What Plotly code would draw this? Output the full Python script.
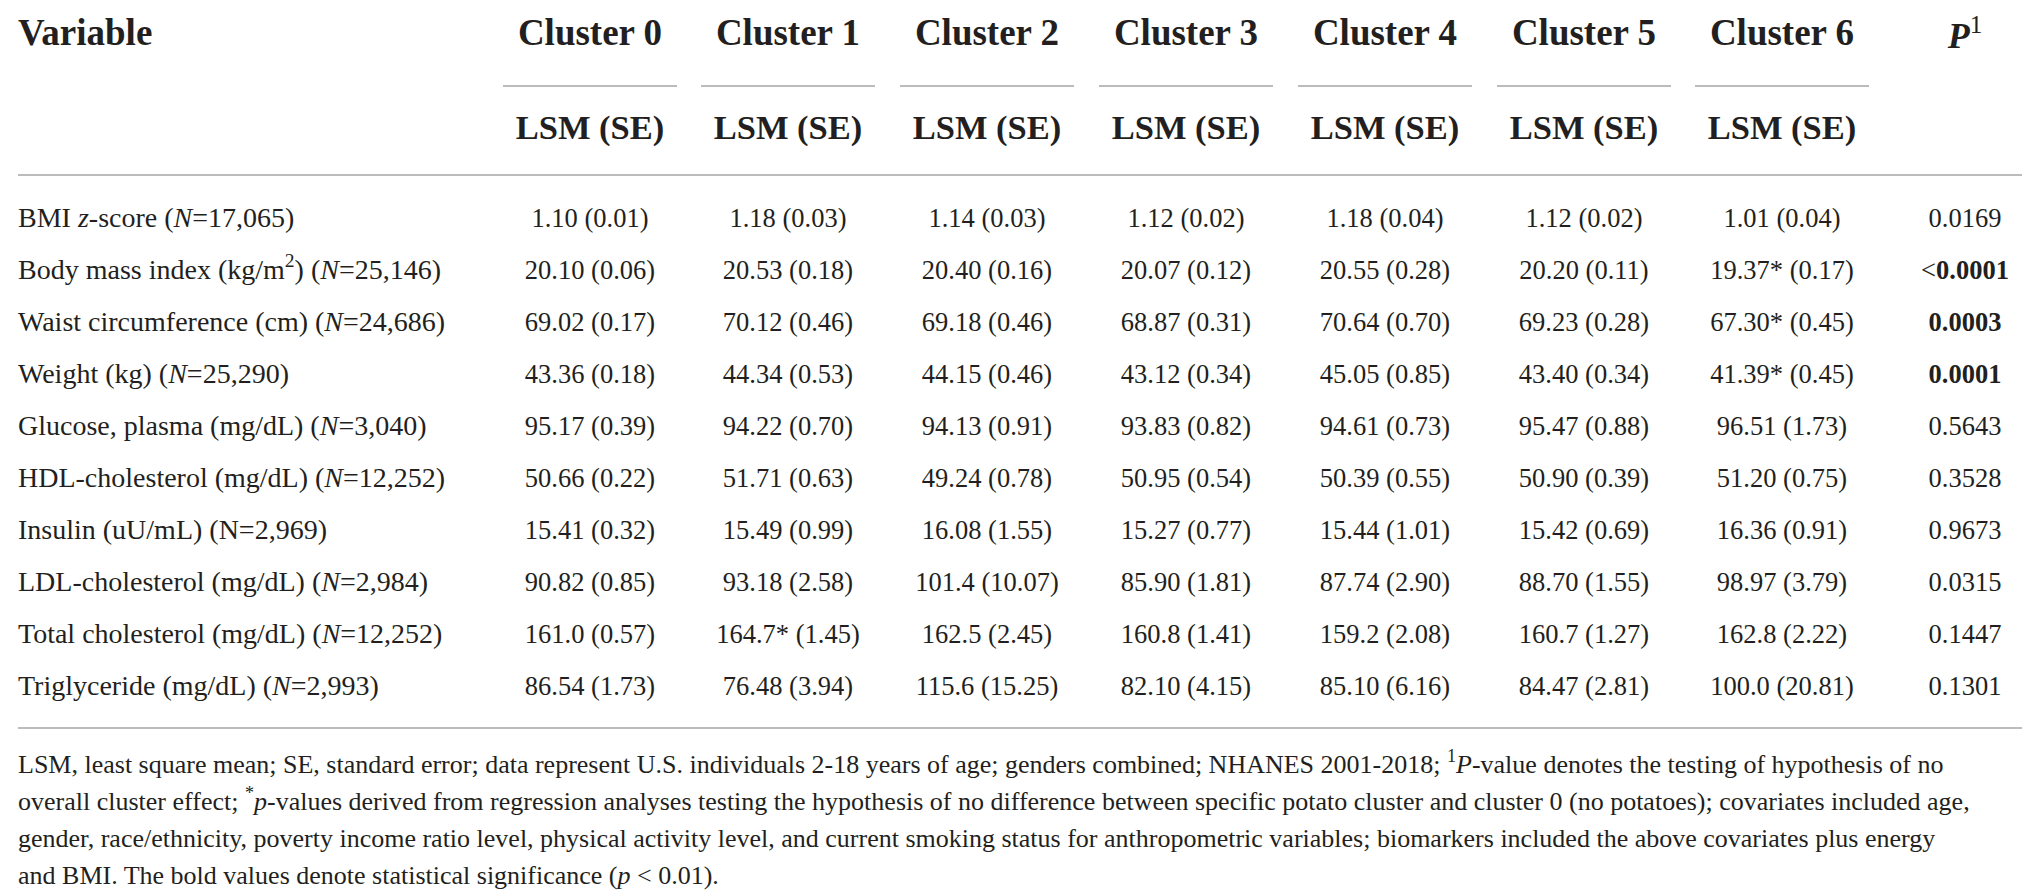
import plotly.graph_objects as go

# table content
clusters = ["Cluster 0", "Cluster 1", "Cluster 2", "Cluster 3", "Cluster 4", "Cluster 5", "Cluster 6"]
variables = ["BMI <i>z</i>-score (<i>N</i>=17,065)",
             "Body mass index (kg/m<sup>2</sup>) (<i>N</i>=25,146)",
             "Waist circumference (cm) (<i>N</i>=24,686)",
             "Weight (kg) (<i>N</i>=25,290)",
             "Glucose, plasma (mg/dL) (<i>N</i>=3,040)",
             "HDL-cholesterol (mg/dL) (<i>N</i>=12,252)",
             "Insulin (uU/mL) (N=2,969)",
             "LDL-cholesterol (mg/dL) (<i>N</i>=2,984)",
             "Total cholesterol (mg/dL) (<i>N</i>=12,252)",
             "Triglyceride (mg/dL) (<i>N</i>=2,993)"]

lsm_c0 = ["1.10", "20.10", "69.02", "43.36", "95.17", "50.66", "15.41", "90.82", "161.0", "86.54"]
se_c0 = ["0.01", "0.06", "0.17", "0.18", "0.39", "0.22", "0.32", "0.85", "0.57", "1.73"]
lsm_c1 = ["1.18", "20.53", "70.12", "44.34", "94.22", "51.71", "15.49", "93.18", "164.7*", "76.48"]
se_c1 = ["0.03", "0.18", "0.46", "0.53", "0.70", "0.63", "0.99", "2.58", "1.45", "3.94"]
lsm_c2 = ["1.14", "20.40", "69.18", "44.15", "94.13", "49.24", "16.08", "101.4", "162.5", "115.6"]
se_c2 = ["0.03", "0.16", "0.46", "0.46", "0.91", "0.78", "1.55", "10.07", "2.45", "15.25"]
lsm_c3 = ["1.12", "20.07", "68.87", "43.12", "93.83", "50.95", "15.27", "85.90", "160.8", "82.10"]
se_c3 = ["0.02", "0.12", "0.31", "0.34", "0.82", "0.54", "0.77", "1.81", "1.41", "4.15"]
lsm_c4 = ["1.18", "20.55", "70.64", "45.05", "94.61", "50.39", "15.44", "87.74", "159.2", "85.10"]
se_c4 = ["0.04", "0.28", "0.70", "0.85", "0.73", "0.55", "1.01", "2.90", "2.08", "6.16"]
lsm_c5 = ["1.12", "20.20", "69.23", "43.40", "95.47", "50.90", "15.42", "88.70", "160.7", "84.47"]
se_c5 = ["0.02", "0.11", "0.28", "0.34", "0.88", "0.39", "0.69", "1.55", "1.27", "2.81"]
lsm_c6 = ["1.01", "19.37*", "67.30*", "41.39*", "96.51", "51.20", "16.36", "98.97", "162.8", "100.0"]
se_c6 = ["0.04", "0.17", "0.45", "0.45", "1.73", "0.75", "0.91", "3.79", "2.22", "20.81"]

p_values = ["0.0169", "<0.0001", "0.0003", "0.0001", "0.5643", "0.3528", "0.9673", "0.0315", "0.1447", "0.1301"]
p_bold = [False, True, True, True, False, False, False, False, False, False]

footnote = [
    "LSM, least square mean; SE, standard error; data represent U.S. individuals 2-18 years of age; genders combined; NHANES 2001-2018; <sup>1</sup><i>P</i>-value denotes the testing of hypothesis of no",
    "overall cluster effect; <sup>*</sup><i>p</i>-values derived from regression analyses testing the hypothesis of no difference between specific potato cluster and cluster 0 (no potatoes); covariates included age,",
    "gender, race/ethnicity, poverty income ratio level, physical activity level, and current smoking status for anthropometric variables; biomarkers included the above covariates plus energy",
    "and BMI. The bold values denote statistical significance (<i>p</i> &lt; 0.01).",
]

lsm_cols = [lsm_c0, lsm_c1, lsm_c2, lsm_c3, lsm_c4, lsm_c5, lsm_c6]
se_cols = [se_c0, se_c1, se_c2, se_c3, se_c4, se_c5, se_c6]

FONT = "Liberation Serif"
INK = "#231f20"
RULE = "#a6a6a6"

col_x = [582, 780, 979, 1178, 1377, 1576, 1774]
p_x = 1957
label_x = 10
row_y0, row_step = 212, 52
row_y = [row_y0 + i * row_step for i in range(len(variables))]

fig = go.Figure()


def text_trace(xs, ys, texts, size, pos="middle center"):
    fig.add_trace(go.Scatter(x=xs, y=ys, text=texts, mode="text",
                             textposition=pos, hoverinfo="skip",
                             textfont=dict(family=FONT, size=size, color=INK)))


# body cells
text_trace([label_x] * len(row_y), row_y, variables, 28, "middle right")
for cx, lsm, se in zip(col_x, lsm_cols, se_cols):
    text_trace([cx] * len(row_y), row_y, [f"{a} ({b})" for a, b in zip(lsm, se)], 26.5)

p_text = []
for p, bold in zip(p_values, p_bold):
    lt = p.startswith("<")
    core = p[1:] if lt else p
    if bold:
        core = "<b>" + core + "</b>"
    p_text.append(("&lt;" if lt else "") + core)
text_trace([p_x] * len(row_y), row_y, p_text, 26.5)

# header
text_trace([label_x], [28], ["<b>Variable</b>"], 37, "middle right")
text_trace(col_x, [28] * len(col_x), ["<b>" + c + "</b>" for c in clusters], 37)
text_trace(col_x, [122] * len(col_x), ["<b>LSM (SE)</b>"] * len(col_x), 34.5)
text_trace([p_x], [31], ["<b><i>P</i></b><sup>1</sup>"], 36)

# footnote
text_trace([label_x] * len(footnote), [758 + j * 37 for j in range(len(footnote))],
           footnote, 26, "middle right")

# rules
shapes = []
for cx in col_x:
    shapes.append(dict(type="line", xref="x", yref="y", x0=cx - 87, x1=cx + 87, y0=78, y1=78,
                       line=dict(color=RULE, width=1.6)))
for yy in (167, 720):
    shapes.append(dict(type="line", xref="x", yref="y", x0=label_x, x1=2018, y0=yy, y1=yy,
                       line=dict(color=RULE, width=1.6)))

fig.update_layout(
    width=2030, height=892,
    margin=dict(l=0, r=0, t=0, b=0),
    paper_bgcolor="white", plot_bgcolor="white",
    xaxis=dict(range=[0, 2030], visible=False, fixedrange=True),
    yaxis=dict(range=[892, 0], visible=False, fixedrange=True),
    shapes=shapes,
    showlegend=False,
)
fig.write_html("out.html")
